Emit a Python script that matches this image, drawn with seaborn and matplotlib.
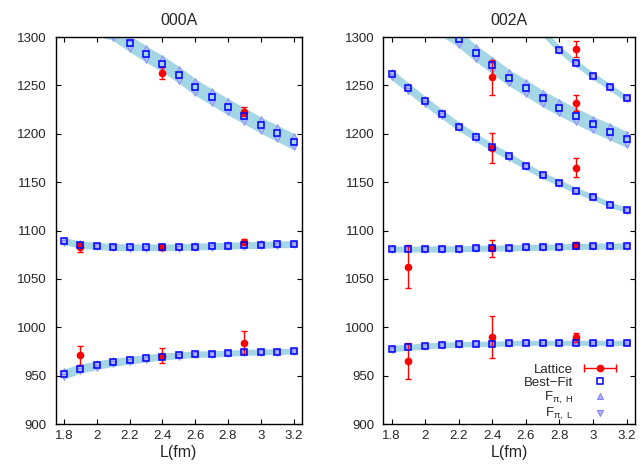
import matplotlib
matplotlib.use("Agg")
import matplotlib.pyplot as plt
from matplotlib.lines import Line2D
from matplotlib.legend_handler import HandlerLine2D, HandlerTuple
from matplotlib.ticker import FormatStrFormatter, MultipleLocator
import seaborn as sns

# volumes (fm)
L = [1.8, 1.9, 2.0, 2.1, 2.2, 2.3, 2.4, 2.5, 2.6, 2.7, 2.8, 2.9, 3.0, 3.1, 3.2]

# ---- 000A ----
fit_000A_hi = [1312, 1311, 1309, 1305, 1293.4, 1282.5, 1272.5, 1261, 1248.5, 1238, 1228, 1218.5, 1209, 1200.5, 1192]
fh_000A_hi = [1318, 1317, 1315, 1311, 1299.4, 1288.5, 1278.5, 1267, 1254.5, 1244, 1234, 1224.5, 1215, 1206.5, 1198]
fl_000A_hi = [1306, 1305, 1303, 1299, 1287.4, 1276.5, 1266.5, 1255, 1242.5, 1232, 1222, 1212.5, 1203, 1194.5, 1186]

fit_000A_mid = [1089, 1085.5, 1084, 1083, 1082.6, 1082.6, 1082.6, 1082.8, 1083.4, 1083.8, 1084.4, 1084.8, 1085.2, 1085.6, 1086]
fh_000A_mid = [1090.5, 1087, 1085.5, 1084.5, 1084, 1084, 1084, 1084.2, 1084.8, 1085.2, 1085.8, 1086.2, 1086.6, 1087, 1087.4]
fl_000A_mid = [1087.5, 1084, 1082.5, 1081.5, 1081.2, 1081.2, 1081.2, 1081.4, 1082, 1082.4, 1083, 1083.4, 1083.8, 1084.2, 1084.6]

fit_000A_lo = [951.7, 957.3, 960.7, 963.8, 965.9, 968, 969.7, 971, 972.1, 972.5, 973.1, 974, 974.5, 974.8, 975.5]
fh_000A_lo = [954.5, 959.8, 963, 965.8, 967.7, 969.6, 971.1, 972.3, 973.3, 973.6, 974.1, 975, 975.4, 975.7, 976.3]
fl_000A_lo = [948.9, 954.8, 958.4, 961.8, 964.1, 966.4, 968.3, 969.7, 970.9, 971.4, 972.1, 973, 973.6, 973.9, 974.7]

lat_000A_L = [2.4, 2.9, 1.9, 2.4, 2.9, 1.9, 2.4, 2.9]
lat_000A_E = [1262.8, 1223, 1082.5, 1082.6, 1088.5, 971, 970.7, 984.2]
lat_000A_err = [6.5, 5, 4.5, 2.5, 2.5, 9.5, 8, 11.5]

# ---- 002A ----
L_002A_a = [2.6, 2.7, 2.8, 2.9, 3.0, 3.1, 3.2]
fit_002A_a = [1322, 1305, 1287, 1272.7, 1260, 1248.3, 1236.5]
fh_002A_a = [1323, 1306, 1288, 1273.7, 1261, 1249.3, 1237.5]
fl_002A_a = [1321, 1304, 1286, 1271.7, 1259, 1247.3, 1235.5]

L_002A_b = [2.0, 2.1, 2.2, 2.3, 2.4, 2.5, 2.6, 2.7, 2.8, 2.9, 3.0, 3.1, 3.2]
fit_002A_b = [1316, 1309, 1298.2, 1283.5, 1270.7, 1258, 1247.3, 1236.5, 1227, 1218.3, 1209.6, 1202.1, 1194.1]
fh_002A_b = [1322, 1315, 1304.2, 1289.5, 1276.7, 1264, 1253.3, 1242.5, 1233, 1224.3, 1215.6, 1208.1, 1200.1]
fl_002A_b = [1310, 1303, 1292.2, 1277.5, 1264.7, 1252, 1241.3, 1230.5, 1221, 1212.3, 1203.6, 1196.1, 1188.1]

fit_002A_c = [1261.3, 1247.2, 1233.4, 1220.4, 1207.5, 1196.6, 1186, 1176.6, 1166.4, 1157, 1149.3, 1141.3, 1134.5, 1126.8, 1121.2]
fh_002A_c = [1264, 1249.8, 1235.8, 1222.6, 1209.5, 1198.4, 1187.6, 1178, 1167.6, 1158, 1150.2, 1142.1, 1135.2, 1127.4, 1121.8]
fl_002A_c = [1258.6, 1244.6, 1231, 1218.2, 1205.5, 1194.8, 1184.4, 1175.2, 1165.2, 1156, 1148.4, 1140.5, 1133.8, 1126.2, 1120.6]

fit_002A_d = [1080.9, 1080.9, 1080.9, 1081, 1081.1, 1081.5, 1081.8, 1082, 1082.5, 1082.8, 1083.2, 1083.5, 1083.8, 1083.9, 1083.9]
fh_002A_d = [1081.9, 1081.9, 1081.9, 1082, 1082.1, 1082.5, 1082.8, 1083, 1083.5, 1083.8, 1084.2, 1084.5, 1084.8, 1084.9, 1084.9]
fl_002A_d = [1079.9, 1079.9, 1079.9, 1080, 1080.1, 1080.5, 1080.8, 1081, 1081.5, 1081.8, 1082.2, 1082.5, 1082.8, 1082.9, 1082.9]

fit_002A_e = [977.9, 979.3, 980.7, 981.7, 982.4, 982.8, 982.8, 983.6, 983.9, 983.9, 983.9, 983.9, 983.9, 983.9, 983.9]
fh_002A_e = [979, 980.3, 981.6, 982.5, 983.1, 983.4, 983.4, 984.2, 984.4, 984.4, 984.4, 984.4, 984.4, 984.4, 984.4]
fl_002A_e = [976.8, 978.3, 979.8, 980.9, 981.7, 982.2, 982.2, 983, 983.4, 983.4, 983.4, 983.4, 983.4, 983.4, 983.4]

lat_002A_L = [2.9, 2.4, 2.9, 2.4, 2.9, 1.9, 2.4, 2.9, 1.9, 2.4, 2.9]
lat_002A_E = [1287.9, 1258.2, 1231.7, 1185.3, 1165, 1062.8, 1081.5, 1085.4, 964.8, 990, 989.6]
lat_002A_err = [8.5, 18, 8, 16, 10, 22.5, 8.5, 3, 18.5, 22, 4.5]

BAND = "#a4d6e6"
SQ = "#0000ff"
TRI_FC = "#b4b4ff"
TRI_EC = "#7c7cff"

sns.set_theme(style="ticks")
plt.rcParams["font.family"] = ["Liberation Sans", "DejaVu Sans"]
plt.rcParams["mathtext.fontset"] = "custom"
plt.rcParams["mathtext.rm"] = "Liberation Sans"
plt.rcParams["mathtext.it"] = "Liberation Sans:italic"
plt.rcParams["mathtext.default"] = "regular"


def draw_curve(ax, x, fit, fh, fl):
    ax.fill_between(x, fl, fh, color=BAND, edgecolor=BAND, lw=3, zorder=1)
    for y, m in ((fh, "^"), (fl, "v")):
        sns.lineplot(x=x, y=y, ax=ax, marker=m, linestyle="", markersize=4,
                     markerfacecolor=TRI_FC, markeredgecolor=TRI_EC,
                     markeredgewidth=0.7, alpha=0.75, legend=False, zorder=2)
    sns.lineplot(x=x, y=fit, ax=ax, marker="s", linestyle="", markersize=4.6,
                 markerfacecolor="none", markeredgecolor=SQ,
                 markeredgewidth=1.1, legend=False, zorder=4)


def style_axes(ax, title):
    ax.set_xlim(1.75, 3.25)
    ax.set_ylim(900, 1300)
    ax.xaxis.set_major_locator(MultipleLocator(0.2))
    ax.xaxis.set_major_formatter(FormatStrFormatter("%g"))
    ax.yaxis.set_major_locator(MultipleLocator(50))
    ax.tick_params(direction="in", top=True, right=True, length=3.5,
                   width=0.8, labelsize=9.5, color="black")
    ax.tick_params(axis="y", pad=6.5)
    ax.tick_params(axis="x", pad=4.5)
    for s in ax.spines.values():
        s.set_visible(True)
        s.set_color("black")
        s.set_linewidth(1.0)
    ax.set_title(title, fontsize=11.5, pad=9)
    ax.set_xlabel("L(fm)", fontsize=11.5, labelpad=2)
    ax.set_ylabel("")


fig = plt.figure(figsize=(6.42, 4.68), dpi=100)
ax1 = fig.add_axes([0.0868, 0.094, 0.3832, 0.8269])
ax2 = fig.add_axes([0.597, 0.094, 0.392, 0.8269])

# 000A panel
draw_curve(ax1, L, fit_000A_hi, fh_000A_hi, fl_000A_hi)
draw_curve(ax1, L, fit_000A_mid, fh_000A_mid, fl_000A_mid)
draw_curve(ax1, L, fit_000A_lo, fh_000A_lo, fl_000A_lo)
ax1.errorbar(lat_000A_L, lat_000A_E, yerr=lat_000A_err, fmt="o", color="red",
             ms=4.5, capsize=2.5, elinewidth=1, capthick=1, zorder=3)
style_axes(ax1, "000A")

# 002A panel
draw_curve(ax2, L_002A_a, fit_002A_a, fh_002A_a, fl_002A_a)
draw_curve(ax2, L_002A_b, fit_002A_b, fh_002A_b, fl_002A_b)
draw_curve(ax2, L, fit_002A_c, fh_002A_c, fl_002A_c)
draw_curve(ax2, L, fit_002A_d, fh_002A_d, fl_002A_d)
draw_curve(ax2, L, fit_002A_e, fh_002A_e, fl_002A_e)
ax2.errorbar(lat_002A_L, lat_002A_E, yerr=lat_002A_err, fmt="o", color="red",
             ms=4.5, capsize=2.5, elinewidth=1, capthick=1, zorder=3)
style_axes(ax2, "002A")

# legend (gnuplot style: label first, then symbol)
lat_bar = Line2D([], [], color="red", lw=1, marker="|", markersize=6, markeredgewidth=1)
lat_dot = Line2D([], [], color="red", marker="o", ms=4.5, ls="none")
h_fit = Line2D([], [], marker="s", ls="none", ms=4.6, mfc="none", mec=SQ, mew=1.1)
h_up = Line2D([], [], marker="^", ls="none", ms=4, mfc=TRI_FC, mec=TRI_EC, mew=0.7)
h_dn = Line2D([], [], marker="v", ls="none", ms=4, mfc=TRI_FC, mec=TRI_EC, mew=0.7)
ax2.legend([(lat_bar, lat_dot), h_fit, h_up, h_dn],
           ["Lattice", "Best\u2212Fit", r"F$_{\pi,\ H}$", r"F$_{\pi,\ L}$"],
           handler_map={lat_bar: HandlerLine2D(numpoints=2),
                        lat_dot: HandlerLine2D(numpoints=1),
                        tuple: HandlerTuple(ndivide=1, pad=0)},
           loc="lower right", bbox_to_anchor=(0.94, 0.004), borderpad=0,
           borderaxespad=0, frameon=False, markerfirst=False, fontsize=9.5,
           handlelength=3.0, handletextpad=0.55, labelspacing=0.05)

fig.savefig("out.png", dpi=100)
